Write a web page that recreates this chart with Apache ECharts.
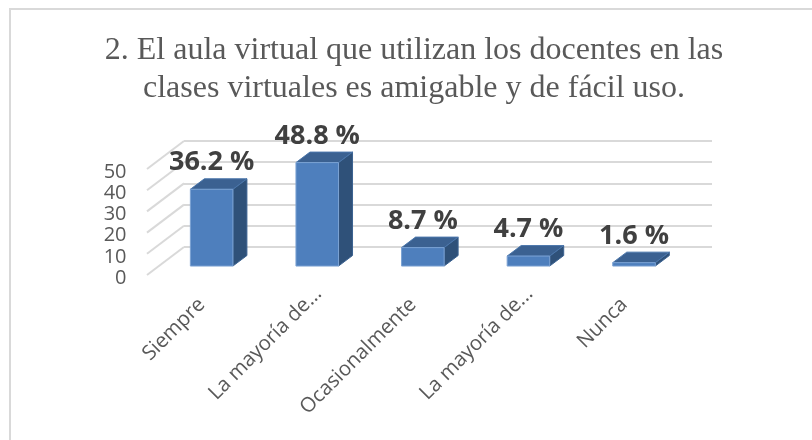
<!DOCTYPE html>
<html><head><meta charset="utf-8">
<style>html,body{margin:0;padding:0;background:#fff}#c{width:812px;height:440px}</style>
<script src="https://cdn.jsdelivr.net/npm/echarts@6/dist/echarts.min.js"></script>
</head><body><div id="c"></div>
<script>
const categories = ['Siempre', 'La mayoría de...', 'Ocasionalmente', 'La mayoría de...', 'Nunca'];
const values = [36.2, 48.8, 8.7, 4.7, 1.6];
const ticks = [0, 10, 20, 30, 40, 50];
const titleLines = ['2. El aula virtual que utilizan los docentes en las', 'clases virtuales es amigable y de fácil uso.'];

const DX = 37, DY = 28, PLANE = 0.32, BAR_DX = 14, BAR_DY = 10.5;
const chart = echarts.init(document.getElementById('c'), null, {renderer: 'canvas'});

function barItem(params, api) {
  const i = api.value(0), v = api.value(1);
  const top = api.coord([i, v]), base = api.coord([i, 0]);
  const band = api.size([1, 0])[0], w = band * 0.403;
  const cx = top[0] + DX * PLANE, x0 = cx - w / 2, x1 = cx + w / 2;
  const yT = top[1] - DY * PLANE, yB = base[1] - DY * PLANE;
  return {type: 'group', children: [
    {type: 'polygon', shape: {points: [[x1, yT], [x1 + BAR_DX, yT - BAR_DY], [x1 + BAR_DX, yB - BAR_DY], [x1, yB]]},
     style: {fill: '#2f5179', stroke: '#3b6291', lineWidth: 1}},
    {type: 'polygon', shape: {points: [[x0, yT], [x0 + BAR_DX, yT - BAR_DY], [x1 + BAR_DX, yT - BAR_DY], [x1, yT]]},
     style: {fill: '#3b6191', stroke: '#4a76ab', lineWidth: 1}},
    {type: 'rect', shape: {x: x0, y: yT, width: w, height: yB - yT},
     style: {fill: '#4e7fbd', stroke: '#7ba2d3', lineWidth: 1}},
    {type: 'text', style: {x: cx, y: yT - BAR_DY - 16, text: v + ' %', align: 'center', verticalAlign: 'middle',
      fill: '#404040', font: 'bold 27px "Open Sans"'}}
  ]};
}
function diagItem(params, api) {
  const v = api.value(0);
  const p = api.coord([0, v]), half = api.size([1, 0])[0] / 2;
  return {type: 'line', shape: {x1: p[0] - half, y1: p[1], x2: p[0] - half + DX, y2: p[1] - DY},
    style: {stroke: '#d9d9d9', lineWidth: 2}};
}
const hiddenCat = {type: 'category', data: categories, axisLine: {show: false}, axisTick: {show: false}, axisLabel: {show: false}};
const labelFont = {fontFamily: '"Open Sans"', fontSize: 20.4, color: '#595959'};

chart.setOption({
  backgroundColor: '#fff',
  animation: false,
  title: {text: titleLines.join('\n'), left: 409, top: 27, textAlign: 'center',
    textStyle: {fontFamily: '"Liberation Serif"', fontWeight: 'normal', fontSize: 32, lineHeight: 38, color: '#595959'}},
  graphic: [{type: 'rect', shape: {x: 10, y: 9, width: 900, height: 600}, silent: true,
    style: {fill: 'none', stroke: '#d9d9d9', lineWidth: 2}}],
  grid: [
    {left: 147, top: 169, width: 528, height: 106},
    {left: 184, top: 141, width: 528, height: 106},
    {left: 160, top: 172, width: 528, height: 106}
  ],
  xAxis: [
    Object.assign({gridIndex: 0}, hiddenCat),
    Object.assign({gridIndex: 1}, hiddenCat),
    {type: 'category', gridIndex: 2, data: categories, axisLine: {show: false}, axisTick: {show: false},
     axisLabel: Object.assign({interval: 0, rotate: 45, margin: 12.5,
       formatter: (s) => s.endsWith('...') ? '{e|' + s + '}' : '{p|' + s + '}',
       rich: {p: Object.assign({padding: [0, 15.5, 0, 0]}, labelFont), e: labelFont}}, labelFont)}
  ],
  yAxis: [
    {type: 'value', gridIndex: 0, min: 0, max: 50, interval: 10, splitLine: {show: false}, axisLine: {show: false}, axisTick: {show: false}, axisLabel: {show: false}},
    {type: 'value', gridIndex: 1, min: 0, max: 50, interval: 10, axisLine: {show: false}, axisTick: {show: false}, axisLabel: {show: false},
     splitLine: {show: true, lineStyle: {color: '#d9d9d9', width: 2}}},
    {type: 'value', gridIndex: 2, min: 0, max: 50, interval: 10, axisLine: {show: false}, axisTick: {show: false}, splitLine: {show: false},
     axisLabel: {margin: 33.5, fontFamily: '"Open Sans"', fontSize: 20, color: '#595959'}}
  ],
  series: [
    {type: 'custom', xAxisIndex: 0, yAxisIndex: 0, z: 1, clip: false, renderItem: diagItem,
     encode: {y: 0}, data: ticks.map(t => [t])},
    {type: 'custom', xAxisIndex: 0, yAxisIndex: 0, z: 3, clip: false, renderItem: barItem,
     encode: {x: 0, y: 1}, data: values.map((v, i) => [i, v])}
  ]
});
</script></body></html>
